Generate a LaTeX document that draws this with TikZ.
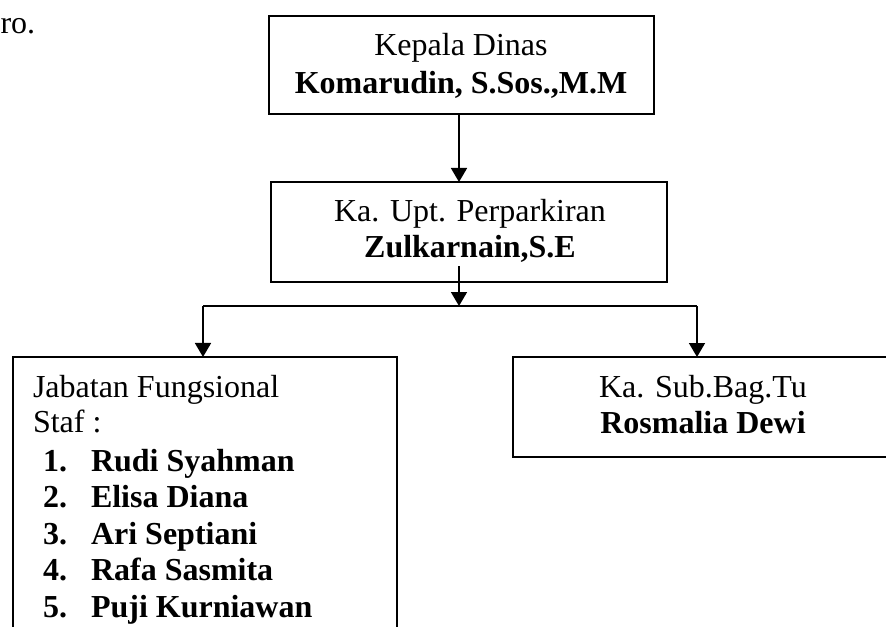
\documentclass[tikz,border=0pt]{standalone}
\usepackage{fontspec}
\setmainfont{Liberation Serif}
\usetikzlibrary{arrows.meta}
\begin{document}
\begin{tikzpicture}[x=1bp,y=-1bp,
  orgbox/.style={draw,line width=2bp,inner sep=0pt,outer sep=0pt},
  txt/.style={inner sep=0pt,outer sep=0pt,anchor=base,font=\fontsize{32bp}{38bp}\selectfont},
  txtl/.style={txt,anchor=base west},
  conn/.style={line width=1.7bp},
  arr/.style={conn,-{Triangle[length=14bp,width=16bp]}}]
\useasboundingbox (0,0) rectangle (886,627);
% stray text at top-left
\node[txtl] (stray) at (0.5,34) {ro.};
% boxes
\node[orgbox,minimum width=385bp,minimum height=98bp] (kadis) at (461.5,65) {};
\node[orgbox,minimum width=396bp,minimum height=100bp] (upt) at (469,232) {};
\node[orgbox,minimum width=384bp,minimum height=323bp] (fung) at (205,518.5) {};
\node[orgbox,minimum width=382bp,minimum height=100bp] (sub) at (704,407) {};
% texts
\node[txt] (kadisA) at (461,56) {Kepala Dinas};
\node[txt] (kadisB) at (461,94) {\textbf{Komarudin, S.Sos.,M.M}};
\node[txt] (uptA) at (470,222) {Ka. Upt. Perparkiran};
\node[txt] (uptB) at (470,258) {\textbf{Zulkarnain,S.E}};
\node[txt] (subA) at (703,397) {Ka. Sub.Bag.Tu};
\node[txt] (subB) at (703,433) {\textbf{Rosmalia Dewi}};
\node[txtl] (fungA) at (33,397) {Jabatan Fungsional};
\node[txtl] (fungB) at (33,432) {Staf :};
\node[txtl] (n1) at (43,471) {\textbf{1.}};
\node[txtl] (s1) at (91,471) {\textbf{Rudi Syahman}};
\node[txtl] (n2) at (43,507.5) {\textbf{2.}};
\node[txtl] (s2) at (91,507.5) {\textbf{Elisa Diana}};
\node[txtl] (n3) at (43,544) {\textbf{3.}};
\node[txtl] (s3) at (91,544) {\textbf{Ari Septiani}};
\node[txtl] (n4) at (43,580.5) {\textbf{4.}};
\node[txtl] (s4) at (91,580.5) {\textbf{Rafa Sasmita}};
\node[txtl] (n5) at (43,617) {\textbf{5.}};
\node[txtl] (s5) at (91,617) {\textbf{Puji Kurniawan}};
% connectors
\coordinate (j) at (459,306);
\coordinate (jl) at (203,306);
\coordinate (jr) at (697,306);
\coordinate (uptS) at (459,266);
\draw[arr] (kadis.south -| j) -- (upt.north -| j);
\draw[arr] (uptS) -- (j);
\draw[conn] (jl) -- (jr);
\draw[arr] (jl) -- (jl |- fung.north);
\draw[arr] (jr) -- (jr |- sub.north);
\end{tikzpicture}
\end{document}
